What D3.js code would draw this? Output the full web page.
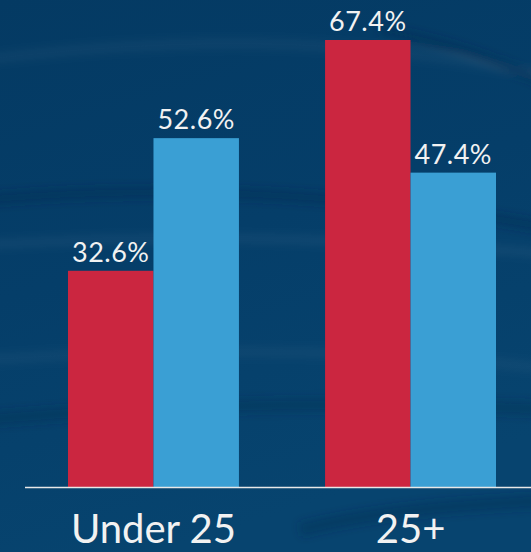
<!DOCTYPE html>
<html>
<head>
<meta charset="utf-8">
<script src="https://cdn.jsdelivr.net/npm/d3@7"></script>
<style>
html,body{margin:0;padding:0;background:#053d68;overflow:hidden;}
svg{display:block;}
</style>
</head>
<body>
<script>
const categories = ["Under 25", "25+"];
const seriesNames = ["Red", "Blue"];
const redValues = [32.6, 67.4];
const blueValues = [52.6, 47.4];
const valueLabels = [["32.6%", "52.6%"], ["67.4%", "47.4%"]];

const W = 531, H = 552;
const svg = d3.select("body").append("svg").attr("width", W).attr("height", H);
const defs = svg.append("defs");
const bg = defs.append("linearGradient").attr("id","bg").attr("x1",0).attr("y1",0).attr("x2",0.3).attr("y2",1);
bg.append("stop").attr("offset","0%").attr("stop-color","#043a63");
bg.append("stop").attr("offset","50%").attr("stop-color","#053e69");
bg.append("stop").attr("offset","100%").attr("stop-color","#07446f");
defs.append("filter").attr("id","blur").append("feGaussianBlur").attr("stdDeviation",4);

svg.append("rect").attr("width",W).attr("height",H).attr("fill","url(#bg)");
// subtle background streaks
const streaks = svg.append("g").attr("filter","url(#blur)");
const streakDefs = [
  {d:"M-20,60 C150,40 350,30 560,80", c:"#ffffff", o:0.04, w:10},
  {d:"M-20,200 C150,185 350,190 560,230", c:"#022d50", o:0.35, w:12},
  {d:"M-20,245 C150,235 330,235 560,255", c:"#ffffff", o:0.05, w:8},
  {d:"M-20,360 C150,350 350,345 560,370", c:"#ffffff", o:0.04, w:10},
  {d:"M-20,420 C150,405 350,400 560,410", c:"#022d50", o:0.3, w:14},
  {d:"M300,530 C380,510 460,505 560,500", c:"#022d50", o:0.35, w:14},
  {d:"M380,30 C440,40 500,60 560,90", c:"#022d50", o:0.35, w:10}
];
streaks.selectAll("path").data(streakDefs).join("path")
  .attr("d", d => d.d).attr("fill","none").attr("stroke", d => d.c)
  .attr("stroke-opacity", d => d.o).attr("stroke-width", d => d.w);

const x0 = d3.scaleBand().domain(categories).range([68, 496]).paddingInner(0.335).paddingOuter(0);
const x1 = d3.scaleBand().domain(seriesNames).range([0, x0.bandwidth()]).padding(0);
const y = d3.scaleLinear().domain([0, 73.43]).range([487, 0]);
const colors = {Red:"#cb2640", Blue:"#3a9fd4"};

const data = categories.map((c, i) => ({
  cat: c,
  vals: [
    {s:"Red", v: redValues[i], label: valueLabels[i][0]},
    {s:"Blue", v: blueValues[i], label: valueLabels[i][1]}
  ]
}));

const groups = svg.append("g").selectAll("g").data(data).join("g")
  .attr("transform", d => `translate(${x0(d.cat)},0)`);

groups.selectAll("rect").data(d => d.vals).join("rect")
  .attr("x", d => x1(d.s))
  .attr("width", x1.bandwidth())
  .attr("y", d => y(d.v))
  .attr("height", d => y(0) - y(d.v))
  .attr("fill", d => colors[d.s]);

groups.selectAll("text").data(d => d.vals).join("text")
  .attr("x", d => x1(d.s) + x1.bandwidth()/2)
  .attr("y", d => y(d.v) - 9)
  .attr("text-anchor","middle")
  .attr("fill","#f2f2f2")
  .style("font-family","Lato, 'Open Sans', sans-serif")
  .style("font-size","27px")
  .style("letter-spacing","0.5px")
  .text(d => d.label);

// axis
const axis = svg.append("g").attr("transform", `translate(0,${y(0)})`)
  .call(d3.axisBottom(x0).tickSize(0).tickPadding(0));
axis.select(".domain").remove();
svg.append("line").attr("x1",25).attr("x2",W).attr("y1",y(0)+0.5).attr("y2",y(0)+0.5)
  .attr("stroke","#e8e8e8").attr("stroke-width",1.5);
axis.selectAll(".tick text")
  .attr("y", 56)
  .attr("dy", 0)
  .attr("fill","#f2f2f2")
  .style("font-family","Lato, 'Open Sans', sans-serif")
  .style("font-size","40px");
</script>
</body>
</html>
